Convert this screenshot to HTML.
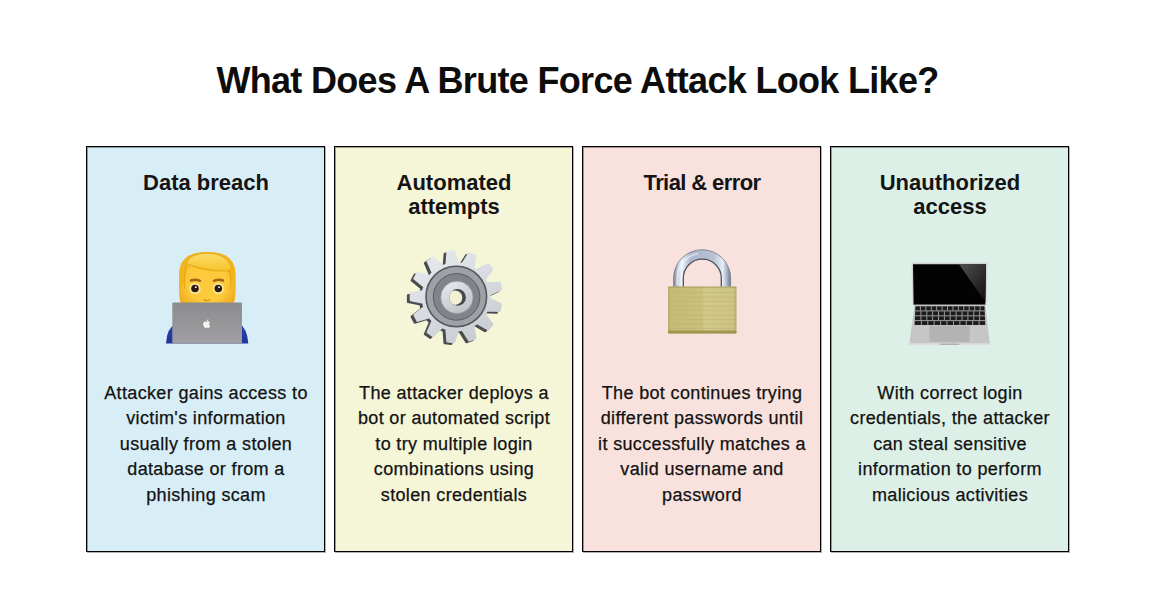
<!DOCTYPE html>
<html><head><meta charset="utf-8">
<style>
html,body{margin:0;padding:0;background:#fff;}
body{width:1155px;height:612px;position:relative;overflow:hidden;font-family:"Liberation Sans",sans-serif;color:#111;}
.title{position:absolute;left:0;top:59px;width:1155px;text-align:center;font-weight:bold;font-size:36px;line-height:44px;letter-spacing:-0.68px;color:#0d0d0d;}
.card{position:absolute;top:146px;width:239px;height:406px;box-sizing:border-box;border:1px solid #000;box-shadow:inset 1px 1px 0 0 rgba(0,0,0,0.35),1px 1px 0 0 rgba(0,0,0,0.3);}
.c1{left:86px;background:#d8eef7;}
.c2{left:334px;background:#f5f5d8;}
.c3{left:582px;background:#f9e2de;}
.c4{left:830px;background:#dcf0e8;}
.h{position:absolute;left:0.5px;top:23.6px;width:100%;text-align:center;font-weight:bold;font-size:22px;line-height:24.7px;color:#141414;}
.b{position:absolute;left:0.5px;top:234px;width:100%;text-align:center;font-size:18px;line-height:25.4px;letter-spacing:0.35px;color:#121212;-webkit-text-stroke:0.25px #121212;}
.icon{position:absolute;}
</style></head><body>
<div class="title">What Does A Brute Force Attack Look Like?</div>
<div class="card c1">
  <div class="h">Data breach</div>
  <div class="b">Attacker gains access to<br>victim's information<br>usually from a stolen<br>database or from a<br>phishing scam</div>
</div>
<div class="card c2">
  <div class="h">Automated<br>attempts</div>
  <div class="b">The attacker deploys a<br>bot or automated script<br>to try multiple login<br>combinations using<br>stolen credentials</div>
</div>
<div class="card c3">
  <div class="h" style="letter-spacing:-0.6px">Trial &amp; error</div>
  <div class="b">The bot continues trying<br>different passwords until<br>it successfully matches a<br>valid username and<br>password</div>
</div>
<div class="card c4">
  <div class="h">Unauthorized<br>access</div>
  <div class="b">With correct login<br>credentials, the attacker<br>can steal sensitive<br>information to perform<br>malicious activities</div>
</div>
<svg class="icon" style="left:160px;top:245px" width="95" height="105" viewBox="0 0 95 105">
<defs>
<linearGradient id="lg1" x1="0" y1="0" x2="0" y2="1"><stop offset="0" stop-color="#8c8c8e"/><stop offset="1" stop-color="#a0a0a2"/></linearGradient>
<radialGradient id="face" cx="0.5" cy="0.55" r="0.62"><stop offset="0.55" stop-color="#fcca3a"/><stop offset="1" stop-color="#eda51e"/></radialGradient>
<linearGradient id="hair" x1="0" y1="0" x2="0" y2="1"><stop offset="0" stop-color="#fddc6a"/><stop offset="1" stop-color="#f6c42a"/></linearGradient>
<linearGradient id="shirt" x1="0" y1="0" x2="0" y2="1"><stop offset="0" stop-color="#2c40b4"/><stop offset="1" stop-color="#23349c"/></linearGradient>
</defs>
<path d="M6 98.6 Q6.5 83 17 77.5 L78 77.5 Q87.5 83 88.3 98.6 Z" fill="url(#shirt)"/>
<path d="M22.5 62 Q19.2 56 19.2 48 L19.2 30 Q19.2 7 47.3 7 Q75.4 7 75.4 30 L75.4 48 Q75.4 56 72.1 62 Z" fill="url(#face)"/>
<path d="M19.2 44 L19.2 30 Q19.2 7 47.3 7 Q75.4 7 75.4 30 L75.4 46 Q71.5 40 70.5 33 Q69.5 27 66 25.5 Q58 27.5 46 25.5 Q35 23.5 27.5 19 Q25.5 30 24.5 36 Q23.5 41 19.2 44 Z" fill="#f2b51c"/>
<path d="M26 20 Q23.5 30 24.5 44" stroke="#e0a014" stroke-width="1" fill="none" opacity="0.8"/>
<path d="M69 24 Q71.5 32 70.5 45" stroke="#e0a014" stroke-width="1" fill="none" opacity="0.8"/>
<path d="M26.5 18.5 Q29 8.5 47 8.2 Q66 8.2 71.5 22 Q70 26.5 63 26 Q49 25.5 37 22 Q30 20 26.5 18.5 Z" fill="url(#hair)" stroke="#e3a514" stroke-width="0.8"/>
<path d="M31 35.5 Q35.5 34 40 35.8" stroke="#a0651c" stroke-width="2.4" fill="none" stroke-linecap="round"/>
<path d="M54 35.8 Q58.5 34 63 35.5" stroke="#a0651c" stroke-width="2.4" fill="none" stroke-linecap="round"/>
<circle cx="35" cy="43.5" r="5.6" fill="#fee89a"/>
<circle cx="58.3" cy="43.5" r="5.6" fill="#fee89a"/>
<circle cx="35" cy="43.5" r="3.8" fill="#2b1b12"/>
<circle cx="58.3" cy="43.5" r="3.8" fill="#2b1b12"/>
<circle cx="35.8" cy="42.2" r="0.9" fill="#fff"/>
<circle cx="59.1" cy="42.2" r="0.9" fill="#fff"/>
<path d="M43.5 54.5 Q46.7 56.8 50 54.5" stroke="#d0901f" stroke-width="1.4" fill="none"/>
<rect x="12.3" y="57.5" width="69.7" height="41.1" rx="1" fill="url(#lg1)"/>
<g transform="translate(42.4 74.3) scale(0.36)"><path d="M12.152 6.896c-.948 0-2.415-1.078-3.96-1.04-2.04.027-3.91 1.183-4.961 3.014-2.117 3.675-.546 9.103 1.519 12.09 1.013 1.454 2.208 3.09 3.792 3.039 1.52-.065 2.09-.987 3.935-.987 1.831 0 2.35.987 3.96.948 1.637-.026 2.676-1.48 3.676-2.948 1.156-1.688 1.636-3.325 1.662-3.415-.039-.013-3.182-1.221-3.22-4.857-.026-3.04 2.48-4.494 2.597-4.559-1.429-2.09-3.623-2.324-4.39-2.376-2-.156-3.675 1.09-4.61 1.09zM15.53 3.83c.843-1.012 1.4-2.427 1.245-3.83-1.207.052-2.662.805-3.532 1.818-.78.896-1.454 2.338-1.273 3.714 1.338.104 2.715-.688 3.559-1.701" fill="#f6f6f6"/></g>
</svg>
<svg class="icon" style="left:402px;top:245px" width="105" height="105" viewBox="-54.2 -51.8 105 105">
<defs>
<linearGradient id="gb" x1="0.2" y1="0" x2="0.8" y2="1"><stop offset="0" stop-color="#e6e9ed"/><stop offset="1" stop-color="#c8cbd0"/></linearGradient>
<linearGradient id="gh" x1="0.2" y1="0" x2="0.8" y2="1"><stop offset="0" stop-color="#e6e9ed"/><stop offset="1" stop-color="#bcbfc4"/></linearGradient>
<linearGradient id="gm" x1="0.2" y1="0" x2="0.8" y2="1"><stop offset="0" stop-color="#8e9094"/><stop offset="1" stop-color="#a8aaae"/></linearGradient>
</defs>
<g transform="translate(-2.8 1.8)"><path d="M-11.9 -31.3 L-9.7 -32.1 L-8.7 -44.7 L-2.2 -45.4 L1.8 -33.5 L4.1 -33.3 L6.3 -32.9 L13.0 -43.6 L19.2 -41.2 L17.1 -28.8 L19.1 -27.6 L20.9 -26.2 L31.8 -32.5 L36.2 -27.6 L28.6 -17.5 L29.7 -15.5 L30.7 -13.5 L43.3 -14.0 L44.9 -7.6 L33.4 -2.2 L33.5 0.0 L33.4 2.3 L44.8 7.7 L43.3 14.1 L30.6 13.6 L29.6 15.6 L28.5 17.6 L36.1 27.7 L31.8 32.6 L20.8 26.2 L19.0 27.6 L17.1 28.8 L19.1 41.3 L13.0 43.6 L6.2 32.9 L4.0 33.3 L1.8 33.5 L-2.2 45.4 L-8.8 44.6 L-9.8 32.0 L-11.9 31.3 L-14.0 30.4 L-23.1 39.2 L-28.5 35.5 L-23.5 23.8 L-25.1 22.2 L-26.5 20.4 L-38.7 24.0 L-41.7 18.1 L-31.9 10.2 L-32.5 8.0 L-33.0 5.8 L-45.4 3.3 L-45.4 -3.3 L-33.0 -5.8 L-32.5 -8.0 L-31.9 -10.2 L-41.7 -18.2 L-38.6 -24.0 L-26.5 -20.5 L-25.1 -22.2 L-23.5 -23.9 L-28.5 -35.5 L-23.0 -39.2 L-13.9 -30.5 Z" fill="#4a4c4f" stroke="#4a4c4f" stroke-width="2.2" stroke-linejoin="round"/></g>
<path d="M-11.9 -31.3 L-9.7 -32.1 L-8.7 -44.7 L-2.2 -45.4 L1.8 -33.5 L4.1 -33.3 L6.3 -32.9 L13.0 -43.6 L19.2 -41.2 L17.1 -28.8 L19.1 -27.6 L20.9 -26.2 L31.8 -32.5 L36.2 -27.6 L28.6 -17.5 L29.7 -15.5 L30.7 -13.5 L43.3 -14.0 L44.9 -7.6 L33.4 -2.2 L33.5 0.0 L33.4 2.3 L44.8 7.7 L43.3 14.1 L30.6 13.6 L29.6 15.6 L28.5 17.6 L36.1 27.7 L31.8 32.6 L20.8 26.2 L19.0 27.6 L17.1 28.8 L19.1 41.3 L13.0 43.6 L6.2 32.9 L4.0 33.3 L1.8 33.5 L-2.2 45.4 L-8.8 44.6 L-9.8 32.0 L-11.9 31.3 L-14.0 30.4 L-23.1 39.2 L-28.5 35.5 L-23.5 23.8 L-25.1 22.2 L-26.5 20.4 L-38.7 24.0 L-41.7 18.1 L-31.9 10.2 L-32.5 8.0 L-33.0 5.8 L-45.4 3.3 L-45.4 -3.3 L-33.0 -5.8 L-32.5 -8.0 L-31.9 -10.2 L-41.7 -18.2 L-38.6 -24.0 L-26.5 -20.5 L-25.1 -22.2 L-23.5 -23.9 L-28.5 -35.5 L-23.0 -39.2 L-13.9 -30.5 Z" fill="url(#gb)" stroke="url(#gb)" stroke-width="2.2" stroke-linejoin="round"/>
<circle cx="0.1" cy="-0.3" r="30.3" fill="#9ea1a6" stroke="#55585c" stroke-width="1.6"/>
<circle cx="0.4" cy="0.1" r="23.3" fill="#808388" stroke="#5a5d61" stroke-width="1"/>
<circle cx="0.7" cy="0.6" r="16.3" fill="url(#gh)" stroke="#8a8d92" stroke-width="0.8"/>
<clipPath id="hc"><circle cx="1.4" cy="0.6" r="8.3"/></clipPath>
<circle cx="1.4" cy="0.6" r="8.3" fill="#44474b"/>
<circle cx="-1.2" cy="0.9" r="7.3" fill="#f1f0d2" clip-path="url(#hc)"/>
</svg>
<svg class="icon" style="left:660px;top:245px" width="85" height="95" viewBox="0 0 85 95">
<defs>
<linearGradient id="sh" x1="0" y1="0" x2="1" y2="0"><stop offset="0" stop-color="#7d8594"/><stop offset="0.08" stop-color="#c9d2e0"/><stop offset="0.14" stop-color="#f2f5fa"/><stop offset="0.3" stop-color="#aab6ca"/><stop offset="0.7" stop-color="#b7c2d4"/><stop offset="0.86" stop-color="#e9eef6"/><stop offset="0.93" stop-color="#aeb8c8"/><stop offset="1" stop-color="#6f7888"/></linearGradient>
<linearGradient id="br" x1="0" y1="0" x2="1" y2="0"><stop offset="0" stop-color="#bcae6a"/><stop offset="0.05" stop-color="#c8bb79"/><stop offset="0.5" stop-color="#cbbf7e"/><stop offset="0.53" stop-color="#d3c98a"/><stop offset="0.95" stop-color="#cdc383"/><stop offset="1" stop-color="#b7ab68"/></linearGradient>
</defs>
<path d="M13.6 42 L13.6 33.2 A28.5 28.5 0 0 1 70.6 33.2 L70.6 42 L61.3 42 L61.3 33.2 A19 19 0 0 0 23.3 33.2 L23.3 42 Z" fill="url(#sh)"/>
<path d="M13.6 42 L13.6 33.2 A28.5 28.5 0 0 1 70.6 33.2 L70.6 42" stroke="#7a8292" stroke-width="0.9" fill="none"/>
<path d="M23.3 42 L23.3 33.2 A19 19 0 0 1 61.3 33.2 L61.3 42" stroke="#4c5262" stroke-width="1.3" fill="none"/>
<path d="M17.3 40 L17.3 33.2 A24.8 24.8 0 0 1 38 8.7" stroke="#f4f7fc" stroke-width="1.8" fill="none" opacity="0.6"/>
<rect x="8" y="41.6" width="68.5" height="46.8" rx="1" fill="url(#br)"/>
<g stroke="#b9ab68" stroke-width="0.7" opacity="0.5"><line x1="8" y1="47.5" x2="76" y2="47.5"/><line x1="8" y1="52.0" x2="76" y2="52.0"/><line x1="8" y1="56.5" x2="76" y2="56.5"/><line x1="8" y1="61.0" x2="76" y2="61.0"/><line x1="8" y1="65.5" x2="76" y2="65.5"/><line x1="8" y1="70.0" x2="76" y2="70.0"/><line x1="8" y1="74.5" x2="76" y2="74.5"/><line x1="8" y1="79.0" x2="76" y2="79.0"/><line x1="8" y1="83.5" x2="76" y2="83.5"/></g>
<rect x="8" y="85.6" width="68.5" height="2.8" rx="1" fill="#a09650"/>
<rect x="8" y="41.6" width="68.5" height="1.2" fill="#a89e5a" opacity="0.7"/>
</svg>
<svg class="icon" style="left:903px;top:255px" width="95" height="95" viewBox="0 0 95 95">
<defs>
<linearGradient id="rf" x1="0" y1="0" x2="1" y2="1"><stop offset="0" stop-color="#5a5a5a"/><stop offset="1" stop-color="#101010"/></linearGradient>
</defs>
<path d="M8.5 7.8 L84.6 7.8 L83.5 50 L9.5 50 Z" fill="#d4d4d5"/>
<path d="M10 9.3 L83 9.3 L82.3 49.7 L10.6 49.7 Z" fill="#030303"/>
<path d="M56 9.3 L83 9.3 L82.4 47 Z" fill="url(#rf)" opacity="0.9"/>
<path d="M11.6 49.7 L82.3 49.7 L87 90 L6.2 90 Z" fill="#c6c6c7"/>
<path d="M6.2 88.3 L87 88.3 L87 90 L6.2 90 Z" fill="#dcdcdc"/>
<path d="M12.4 51.2 L81.5 51.2 L82.3 70 L11.6 70 Z" fill="#1c1c1c"/>
<g stroke="#a8a8a9" stroke-width="0.9">
<line x1="11" y1="55.9" x2="83" y2="55.9"/><line x1="11" y1="60.8" x2="83" y2="60.8"/><line x1="11" y1="65.6" x2="83" y2="65.6"/>
<line x1="17.4" y1="51.2" x2="17.4" y2="55.6"/><line x1="22.8" y1="51.2" x2="22.8" y2="55.6"/><line x1="28.3" y1="51.2" x2="28.3" y2="55.6"/><line x1="33.7" y1="51.2" x2="33.7" y2="55.6"/><line x1="39.1" y1="51.2" x2="39.1" y2="55.6"/><line x1="44.5" y1="51.2" x2="44.5" y2="55.6"/><line x1="50.0" y1="51.2" x2="50.0" y2="55.6"/><line x1="55.4" y1="51.2" x2="55.4" y2="55.6"/><line x1="60.8" y1="51.2" x2="60.8" y2="55.6"/><line x1="66.2" y1="51.2" x2="66.2" y2="55.6"/><line x1="71.7" y1="51.2" x2="71.7" y2="55.6"/><line x1="77.1" y1="51.2" x2="77.1" y2="55.6"/><line x1="17.9" y1="56.2" x2="17.9" y2="60.5"/><line x1="23.8" y1="56.2" x2="23.8" y2="60.5"/><line x1="29.6" y1="56.2" x2="29.6" y2="60.5"/><line x1="35.5" y1="56.2" x2="35.5" y2="60.5"/><line x1="41.4" y1="56.2" x2="41.4" y2="60.5"/><line x1="47.2" y1="56.2" x2="47.2" y2="60.5"/><line x1="53.1" y1="56.2" x2="53.1" y2="60.5"/><line x1="59.0" y1="56.2" x2="59.0" y2="60.5"/><line x1="64.9" y1="56.2" x2="64.9" y2="60.5"/><line x1="70.8" y1="56.2" x2="70.8" y2="60.5"/><line x1="76.6" y1="56.2" x2="76.6" y2="60.5"/><line x1="17.9" y1="61.1" x2="17.9" y2="65.3"/><line x1="23.8" y1="61.1" x2="23.8" y2="65.3"/><line x1="29.6" y1="61.1" x2="29.6" y2="65.3"/><line x1="35.5" y1="61.1" x2="35.5" y2="65.3"/><line x1="41.4" y1="61.1" x2="41.4" y2="65.3"/><line x1="47.2" y1="61.1" x2="47.2" y2="65.3"/><line x1="53.1" y1="61.1" x2="53.1" y2="65.3"/><line x1="59.0" y1="61.1" x2="59.0" y2="65.3"/><line x1="64.9" y1="61.1" x2="64.9" y2="65.3"/><line x1="70.8" y1="61.1" x2="70.8" y2="65.3"/><line x1="76.6" y1="61.1" x2="76.6" y2="65.3"/><line x1="18.4" y1="65.9" x2="18.4" y2="70.0"/><line x1="24.8" y1="65.9" x2="24.8" y2="70.0"/><line x1="31.2" y1="65.9" x2="31.2" y2="70.0"/><line x1="37.6" y1="65.9" x2="37.6" y2="70.0"/><line x1="44.0" y1="65.9" x2="44.0" y2="70.0"/><line x1="50.5" y1="65.9" x2="50.5" y2="70.0"/><line x1="56.9" y1="65.9" x2="56.9" y2="70.0"/><line x1="63.3" y1="65.9" x2="63.3" y2="70.0"/><line x1="69.7" y1="65.9" x2="69.7" y2="70.0"/><line x1="76.1" y1="65.9" x2="76.1" y2="70.0"/>
</g>
<rect x="26.4" y="70.6" width="40.3" height="16.3" fill="#b3b3b4"/>
<path d="M36 90 L38 88.6 L55 88.6 L57 90 Z" fill="#b0b0b1"/>
</svg>
</body></html>
